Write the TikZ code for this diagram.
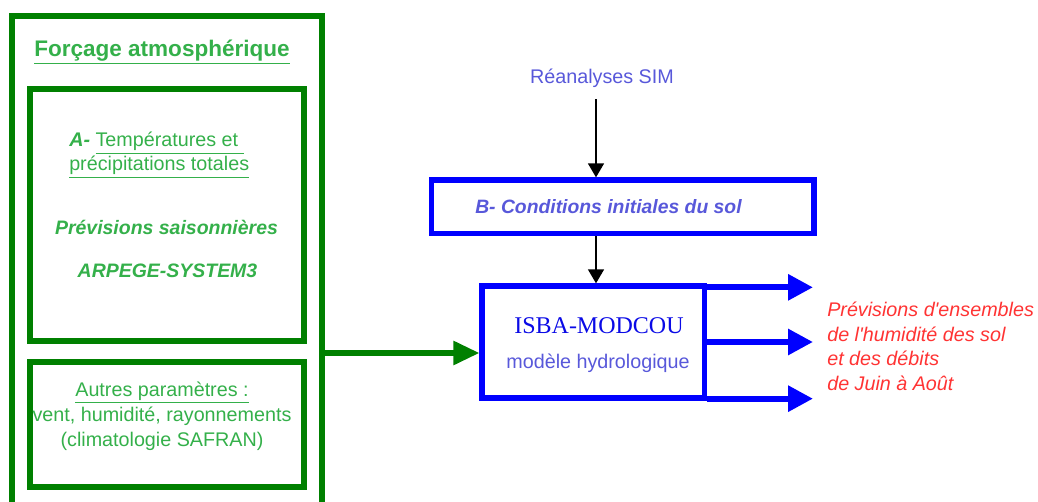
\documentclass[tikz,border=0pt]{standalone}
\usepackage{fontspec}
\setmainfont{Liberation Sans}[Ligatures=TeXOff]
\newfontfamily\modelfont{Liberation Serif}
\usepackage{xcolor}
\usepackage{tikz}
\usetikzlibrary{arrows.meta}
\definecolor{frameGreen}{HTML}{008000}
\definecolor{textGreen}{HTML}{34B04A}
\definecolor{frameBlue}{HTML}{0000FF}
\definecolor{textBlue}{HTML}{5858DA}
\definecolor{modelBlue}{HTML}{0A0AE6}
\definecolor{textRed}{HTML}{FF3333}

\begin{document}
\begin{tikzpicture}[
    x=0.75pt, y=-0.75pt,
    greenbox/.style={rectangle, draw=frameGreen, line width=4.5pt},
    bluebox/.style={rectangle, draw=frameBlue, line width=4pt},
    txt/.style={inner sep=0pt, font=\fontsize{14.8}{18.75}\selectfont},
    greenarrow/.style={-{Triangle[length=19.5pt, width=17.5pt]}, line width=3.8pt, color=frameGreen},
    bluearrow/.style={-{Triangle[length=18.75pt, width=18.75pt]}, line width=4.5pt, color=frameBlue},
    blackarrow/.style={-{Triangle[length=10.5pt, width=12pt]}, line width=1.1pt},
]
\useasboundingbox (0,0) rectangle (1038,502);

% Forcing block
\node[greenbox, minimum width=232.5pt, minimum height=393pt] (forcage) at (167,278) {};
\node[txt, anchor=base, text=textGreen, font=\fontsize{16.9}{20}\selectfont\bfseries] (titre) at (162,57) {\underline{Forçage atmosphérique}};

\node[greenbox, minimum width=205.5pt, minimum height=189pt] (boxA) at (167,215) {};
\node[txt, anchor=base west, align=left, text=textGreen, font=\fontsize{14.8}{18}\selectfont] (tempA) at (69,171)
    {\textbf{\textit{A-}} \underline{Températures et\ }\\\underline{précipitations totales}};
\node[txt, anchor=base, text=textGreen, font=\fontsize{14.6}{18}\selectfont\bfseries\itshape] (saison) at (166.5,235) {Prévisions saisonnières};
\node[txt, anchor=base, text=textGreen, font=\fontsize{14.6}{18}\selectfont\bfseries\itshape] (arpege) at (167.5,277) {ARPEGE-SYSTEM3};

\node[greenbox, minimum width=205.5pt, minimum height=93.4pt] (boxC) at (167,424.75) {};
\node[txt, anchor=base, align=center, text=textGreen] (autres) at (162,446)
    {\underline{Autres paramètres :}\\vent, humidité, rayonnements\\(climatologie SAFRAN)};

% Initial conditions
\node[txt, anchor=base, text=textBlue] (reanal) at (602,84) {Réanalyses SIM};
\node[bluebox, minimum width=286.9pt, minimum height=40.1pt] (condB) at (622.75,206.75) {};
\node[txt, anchor=base west, text=textBlue, font=\fontsize{14.5}{18}\selectfont\bfseries\itshape] (condtxt) at (475,214) {B- Conditions initiales du sol};

% Hydrological model
\node[bluebox, minimum width=166.9pt, minimum height=84pt] (isba) at (593.25,342) {};
\node[txt, anchor=base, text=modelBlue, font=\fontsize{18}{20}\modelfont] (isbaname) at (599,333) {ISBA-MODCOU};
\node[txt, anchor=base, text=textBlue] (isbarole) at (598,368) {modèle hydrologique};

% Outputs
\coordinate (prevTip) at (813,0);
\node[txt, anchor=base west, align=left, text=textRed, font=\fontsize{14.8}{18.3}\selectfont\itshape] (prevs) at (827,390)
    {Prévisions d'ensembles\\de l'humidité des sol\\et des débits\\de Juin à Août};

% Arrows
\draw[blackarrow, shorten <=8pt] ([xshift=-4.5pt]reanal.south) -- ([xshift=-4.5pt]reanal.south |- condB.north);
\draw[blackarrow] ([xshift=-4.5pt]reanal.south |- condB.south) -- ([xshift=-4.5pt]reanal.south |- isba.north);
\draw[greenarrow] ([yshift=-8.25pt]isba.west -| forcage.east) -- ([yshift=-8.25pt]isba.west);
\draw[bluearrow] ([yshift=-3pt]isba.north east) -- ([yshift=-3pt]isba.north east -| prevTip);
\draw[bluearrow] (isba.east) -- (isba.east -| prevTip);
\draw[bluearrow] ([yshift=1.5pt]isba.south east) -- ([yshift=1.5pt]isba.south east -| prevTip);

\end{tikzpicture}
\end{document}
